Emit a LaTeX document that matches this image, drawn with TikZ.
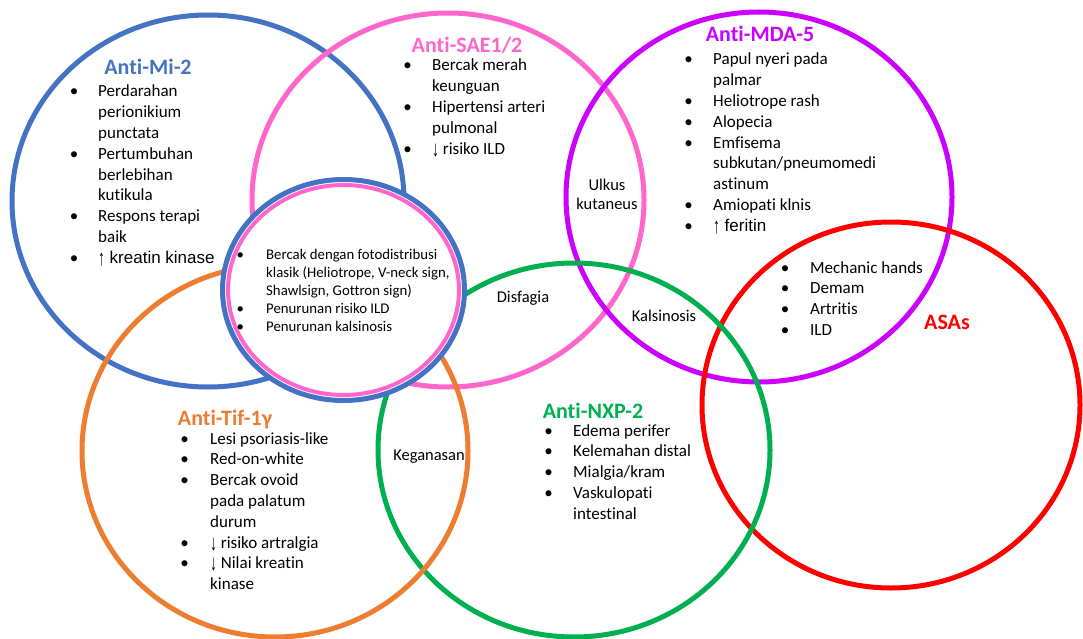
\documentclass[tikz,border=0pt]{standalone}
\usepackage{fontspec}
\usepackage{array}
\usepackage{graphicx}
\setmainfont[Ligatures={NoCommon}]{Carlito}
\newfontfamily\arialf{Liberation Sans}
\definecolor{cblue}{HTML}{4472C4}
\definecolor{cpink}{HTML}{FF66CC}
\definecolor{cpurple}{HTML}{CC00FF}
\definecolor{cred}{HTML}{FF0000}
\definecolor{cgreen}{HTML}{00B050}
\definecolor{corange}{HTML}{ED7D31}
\newcommand{\bul}{\makebox[8pt]{\textbullet}}
\newcommand{\uarr}{\raisebox{-2pt}{\scalebox{0.8}[1.3]{\arialf ↑}}}
\newcommand{\darr}{\raisebox{-2pt}{\scalebox{0.8}[1.3]{\arialf ↓}}}
\tikzset{
  ring/.style={line width=5pt},
  head/.style={anchor=base, inner sep=0pt, font=\fontsize{22}{26}\selectfont\bfseries},
  blist/.style={anchor=base west, inner sep=0pt, font=\fontsize{17}{20.8}\selectfont},
  slist/.style={anchor=base west, inner sep=0pt, font=\fontsize{14.8}{18}\selectfont},
  lbl/.style={inner sep=0pt, align=center, font=\fontsize{16.5}{19}\selectfont},
}
\begin{document}
\begin{tikzpicture}[x=1pt,y=-1pt]
\fill[white] (0,0) rectangle (1083,639);
\useasboundingbox (0,0) rectangle (1083,639);
% big ellipses
\draw[ring,cblue]   (208,201) ellipse [x radius=196pt, y radius=186pt];
\draw[ring,cpink]   (448,200) ellipse [x radius=196pt, y radius=187pt];
\draw[ring,cpurple] (759,197) ellipse [x radius=193pt, y radius=185pt];
\draw[ring,cred]    (891,405) ellipse [x radius=189pt, y radius=183pt];
\draw[ring,cgreen]  (574,450) ellipse [x radius=196pt, y radius=187pt];
\draw[ring,corange] (275,451) ellipse [x radius=193pt, y radius=186pt];
% central double ellipse
\fill[white] (343.5,290) ellipse [x radius=121pt, y radius=110.5pt];
\draw[line width=5pt,cblue] (343.5,290) ellipse [x radius=121pt, y radius=110.5pt];
\draw[line width=4pt,cpink] (343.5,290) ellipse [x radius=115.5pt, y radius=105pt];

% headings
\node[head,text=cblue]   (hmi)  at (148,75)  {Anti-Mi-2};
\node[head,text=cpink]   (hsae) at (467,53)  {Anti-SAE1/2};
\node[head,text=cpurple] (hmda) at (760,42)  {Anti-MDA-5};
\node[head,text=cred]    (hasa) at (947,329) {ASAs};
\node[head,text=corange] (htif) at (225,425) {Anti-Tif-1γ};
\node[head,text=cgreen]  (hnxp) at (593,418) {Anti-NXP-2};

% lists
\node[blist] (lmi) at (70,97) {\begin{tabular}[t]{@{}p{28pt}@{}l@{}}
\bul & Perdarahan\\
 & perionikium\\
 & punctata\\
\bul & Pertumbuhan\\
 & berlebihan\\
 & kutikula\\
\bul & Respons terapi\\
 & baik\\
\bul & \uarr{\arialf\ kreatin kinase}\\
\end{tabular}};

\node[blist] (lsae) at (403.5,71) {\begin{tabular}[t]{@{}p{28.5pt}@{}l@{}}
\bul & Bercak merah\\
 & keunguan\\
\bul & Hipertensi arteri\\
 & pulmonal\\
\bul & \darr\ risiko ILD\\
\end{tabular}};

\node[blist] (lmda) at (684.5,65) {\begin{tabular}[t]{@{}p{28.5pt}@{}l@{}}
\bul & Papul nyeri pada\\
 & palmar\\
\bul & Heliotrope rash\\
\bul & Alopecia\\
\bul & Emfisema\\
 & subkutan/pneumomedi\\
 & astinum\\
\bul & Amiopati klnis\\
\bul & \uarr{\arialf\ feritin}\\
\end{tabular}};

\node[blist] (lasa) at (781,273) {\begin{tabular}[t]{@{}p{29pt}@{}l@{}}
\bul & Mechanic hands\\
\bul & Demam\\
\bul & Artritis\\
\bul & ILD\\
\end{tabular}};

\node[slist] (lcen) at (236,259) {\begin{tabular}[t]{@{}p{30pt}@{}l@{}}
\bul & Bercak dengan fotodistribusi\\
 & klasik (Heliotrope, V-neck sign,\\
 & Shawlsign, Gottron sign)\\
\bul & Penurunan risiko ILD\\
\bul & Penurunan kalsinosis\\
\end{tabular}};

\node[blist] (ltif) at (180.5,444) {\begin{tabular}[t]{@{}p{29.5pt}@{}l@{}}
\bul & Lesi psoriasis-like\\
\bul & Red-on-white\\
\bul & Bercak ovoid\\
 & pada palatum\\
 & durum\\
\bul & \darr\ risiko artralgia\\
\bul & \darr\ Nilai kreatin\\
 & kinase\\
\end{tabular}};

\node[blist] (lnxp) at (544.5,436) {\begin{tabular}[t]{@{}p{28.5pt}@{}l@{}}
\bul & Edema perifer\\
\bul & Kelemahan distal\\
\bul & Mialgia/kram\\
\bul & Vaskulopati\\
 & intestinal\\
\end{tabular}};

% overlap labels
\node[lbl] (ulk) at (607,194) {Ulkus\\kutaneus};
\node[lbl] (dis) at (523,298) {Disfagia};
\node[lbl] (kal) at (664,316) {Kalsinosis};
\node[lbl] (keg) at (429,457) {Keganasan};
\end{tikzpicture}
\end{document}
